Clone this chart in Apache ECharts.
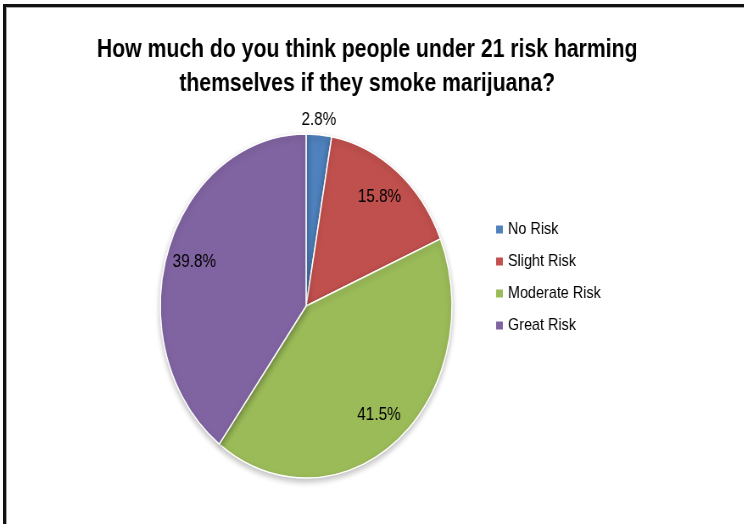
<!DOCTYPE html>
<html style="height: 100%">
  <head>
    <meta charset="utf-8">
    <script type="text/javascript" src="https://cdn.jsdelivr.net/npm/echarts@6/dist/echarts.min.js"></script>
    <style>
      body { margin: 0; background: #fff; overflow: hidden; }
      /* the original picture is squeezed sideways, so the whole chart is too */
      #main { position: absolute; left: 0; top: 0; width: 877px; height: 524px;
              transform: scaleX(0.848); transform-origin: 0 0; }
      #frame { position: absolute; left: 3px; top: 4px; width: 800px; height: 600px;
               border-left: 3px solid #111; border-top: 3px solid #111;
               box-shadow: inset 1px 1px 0 #aaa; pointer-events: none; z-index: 2; }
    </style>
  </head>
  <body>
    <div id="main"></div>
    <div id="frame"></div>
    <script type="text/javascript">

// data
var categories = ['No Risk', 'Slight Risk', 'Moderate Risk', 'Great Risk'];
var shares = [2.8, 15.8, 41.5, 39.8];
var colors = ['#4F81BD', '#C0504D', '#9BBB59', '#8064A2'];

var pieData = [];
for (var i in categories) {
    pieData.push({ name: categories[i], value: shares[i] });
}

var center = [361, 306];
var radius = 172;

var myChart = echarts.init(document.getElementById('main'));

var option = {
    backgroundColor: 'transparent',
    color: colors,
    title: {
        text: 'How much do you think people under 21 risk harming\nthemselves if they smoke marijuana?',
        left: 428,
        top: 28,
        textAlign: 'center',
        textStyle: {
            fontFamily: 'Liberation Sans',
            fontWeight: 'bold',
            fontSize: 25,
            lineHeight: 34,
            color: '#000'
        }
    },
    legend: {
        data: categories,
        orient: 'vertical',
        left: 578,
        top: 216,
        itemWidth: 10,
        itemHeight: 10,
        itemGap: 15,
        icon: 'rect',
        textStyle: {
            fontFamily: 'Liberation Sans',
            fontSize: 17,
            lineHeight: 17,
            color: '#000'
        }
    },
    series: [
        {
            // the pie itself, only the small slice gets its label outside
            type: 'pie',
            center: center,
            radius: radius,
            startAngle: 90,
            silent: true,
            itemStyle: {
                borderColor: '#fff',
                borderWidth: 1.5,
                shadowBlur: 6,
                shadowOffsetY: 3,
                shadowColor: 'rgba(0,0,0,0.25)'
            },
            label: { show: false },
            labelLine: { show: false },
            data: pieData.map(function (d, idx) {
                if (idx !== 0) return d;
                return {
                    name: d.name, value: d.value,
                    label: {
                        show: true, position: 'outside',
                        formatter: '{c}%',
                        fontFamily: 'Liberation Sans', fontSize: 18, color: '#000'
                    },
                    labelLine: { show: false, length: 4, length2: 0 }
                };
            }),
            labelLayout: function (p) {
                if (p.dataIndex !== 0) return {};
                return {
                    x: p.rect.x + p.rect.width / 2,
                    y: p.rect.y - 4,
                    align: 'center',
                    verticalAlign: 'bottom'
                };
            }
        },
        {
            // clear ring so the inside labels sit near the rim like Excel's
            type: 'pie',
            center: center,
            radius: [radius * 0.58, radius],
            startAngle: 90,
            silent: true,
            itemStyle: { color: 'rgba(0,0,0,0)' },
            label: {
                position: 'inside',
                formatter: function (p) {
                    return p.dataIndex === 0 ? '' : p.value + '%';
                },
                fontFamily: 'Liberation Sans',
                fontSize: 18,
                color: '#000'
            },
            labelLine: { show: false },
            data: pieData
        }
    ]
};

myChart.setOption(option);

    </script>
  </body>
</html>
